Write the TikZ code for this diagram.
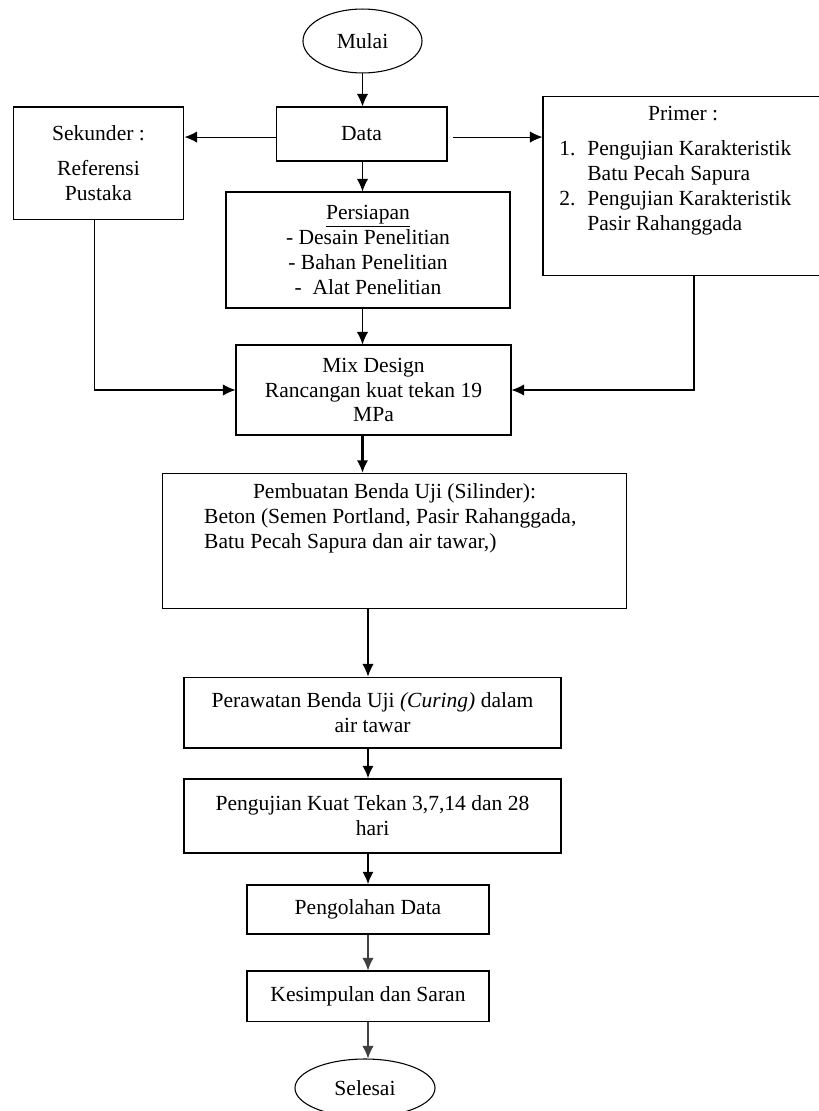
\documentclass[tikz,border=0pt]{standalone}
\usepackage{fontspec}
\setmainfont{Liberation Serif}
\usetikzlibrary{positioning,shapes,arrows.meta}
\tikzstyle{block}=[draw,rectangle,align=center,inner sep=0pt]
\tikzstyle{term}=[draw,ellipse,inner sep=0pt]
\tikzstyle{bold arrow}=[line width=1.4pt]
\tikzstyle{light arrow}=[draw=black!75]
\newcommand{\newBlock}[4]{\node[#3](#1) at (#4){#2};}
\newcommand{\newArrow}[3]{\path[->] (#1) edge [#3] (#2);}

\begin{document}
\begin{tikzpicture}[x=0.557pt,y=-0.557pt,
  >={Latex[length=7pt,width=6.3pt]},
  line width=0.6pt,
  font=\fontsize{12}{13.9}\selectfont
  ]
  \useasboundingbox (0,0) rectangle (819,1111);
  \clip (0,0) rectangle (819,1111);
  % top part
  \newBlock{Mulai}{Mulai}{term,minimum width=66.3pt,minimum height=35.6pt}{362.5,41}
  \newBlock{Data}{Data}{block,minimum width=95.2pt,minimum height=30.1pt}{361.5,134}
  \newBlock{Sekunder}{Sekunder :\\[5.5pt]Referensi\\Pustaka}{block,minimum width=95.2pt,minimum height=62.9pt}{98.5,163.5}
  \newBlock{Primer}{\spaceskip=0pt\relax\hfill Primer :\hspace{12pt}\hfill\null\\[5.5pt]\makebox[15.6pt][l]{1.}Pengujian Karakteristik\\\hspace*{15.6pt}Batu Pecah Sapura\\\makebox[15.6pt][l]{2.}Pengujian Karakteristik\\\hspace*{15.6pt}Pasir Rahanggada}{block,anchor=north,align=left,text width=150pt,inner xsep=9.1pt,text height=13.4pt,text depth=86.3pt}{694,96}
  \newBlock{Persiapan}{\underline{Persiapan}\\- Desain Penelitian\\- Bahan Penelitian\\-\ \ Alat Penelitian}{block,minimum width=158.2pt,minimum height=64.6pt}{368,250}
  \newBlock{Mix}{Mix Design\\Rancangan kuat tekan 19\\MPa}{block,minimum width=153.2pt,minimum height=50.1pt}{373.5,390}
  % main column
  \newBlock{Pembuatan}{\spaceskip=0pt\relax\hfill Pembuatan Benda Uji (Silinder):\hfill\null\\Beton (Semen Portland, Pasir Rahanggada,\\Batu Pecah Sapura dan air tawar,)}{block,anchor=north,align=left,text width=212pt,inner xsep=23pt,text height=13.9pt,text depth=61.3pt}{394.5,473}
  \newBlock{Perawatan}{Perawatan Benda Uji \textit{(Curing)} dalam\\air tawar}{block,minimum width=210pt,minimum height=39.5pt}{372.5,712.5}
  \newBlock{Pengujian}{Pengujian Kuat Tekan 3,7,14 dan 28\\hari}{block,minimum width=210pt,minimum height=41.2pt}{372.5,816}
  \newBlock{Pengolahan}{Pengolahan Data}{block,minimum width=134.8pt,minimum height=27.3pt}{368,909.5}
  \newBlock{Kesimpulan}{Kesimpulan dan Saran}{block,minimum width=134.8pt,minimum height=27.9pt}{368,996}
  \newBlock{Selesai}{Selesai}{term,minimum width=78pt,minimum height=32.3pt}{365,1088}
  % arrows
  \newArrow{Mulai.south}{Data.north -| Mulai.south}{}
  \newArrow{[yshift=-1.7pt]Data.west}{[yshift=-1.7pt]Sekunder.east |- Data.west}{}
  \newArrow{[yshift=-1.7pt]Data.east}{[yshift=-1.7pt]Primer.west |- Data.east}{shorten <=3pt}
  \newArrow{Data.south -| Mulai}{Persiapan.north -| Mulai}{}
  \newArrow{Persiapan.south -| Mulai}{Mix.north -| Mulai}{}
  \draw[->] ([xshift=-2pt]Sekunder.south) |- (Mix.west);
  \draw[->] (Primer.south) |- (Mix.east);
  \newArrow{Mix.south -| Mulai}{Pembuatan.north -| Mulai}{bold arrow}
  \newArrow{Pembuatan.south -| Pengolahan}{Perawatan.north -| Pengolahan}{}
  \newArrow{Perawatan.south -| Pengolahan}{Pengujian.north -| Pengolahan}{bold arrow}
  \newArrow{Pengujian.south -| Pengolahan}{Pengolahan.north}{bold arrow}
  \newArrow{Pengolahan}{Kesimpulan}{light arrow}
  \newArrow{Kesimpulan.south}{Selesai.north -| Kesimpulan.south}{light arrow}
\end{tikzpicture}
\end{document}
